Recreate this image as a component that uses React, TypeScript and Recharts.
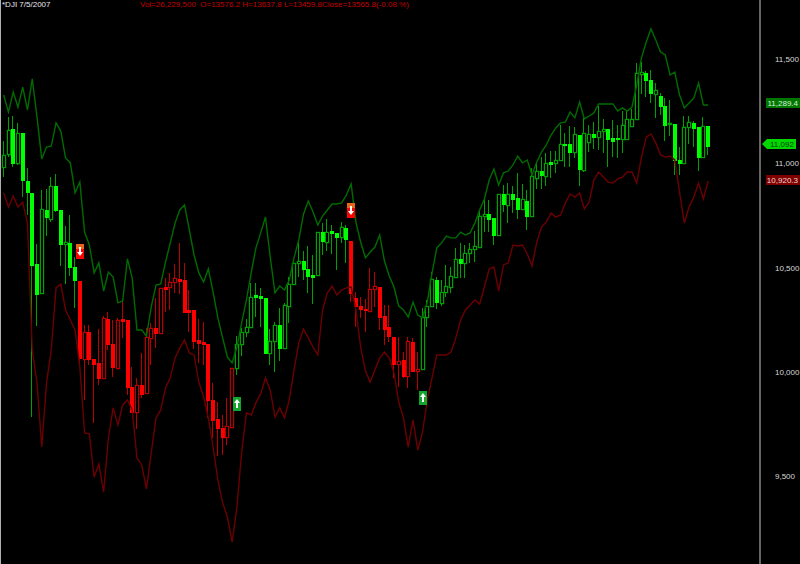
import { Bar, ComposedChart, Line, ReferenceDot, XAxis, YAxis } from "recharts";

const opens = [10983,11046,11166,11003,11147,10916,10859,10518,10379,10777,10734,10892,10777,10614,10619,10503,10436,10062,10191,10062,10043,9971,10254,10134,10019,10254,10249,9927,9807,9937,9899,10163,10211,10187,10407,10407,10431,10446,10441,10297,10297,10153,10143,10134,9865,9774,9731,9687,9736,10019,10134,10191,10215,10369,10364,10355,10091,10148,10225,10115,10316,10422,10523,10532,10494,10465,10465,10671,10623,10676,10667,10647,10691,10628,10355,10316,10302,10292,10398,10407,10268,10215,10167,10038,10057,9980,10143,10004,10014,10263,10316,10441,10331,10383,10407,10455,10542,10523,10571,10590,10599,10748,10758,10738,10657,10854,10801,10854,10835,10782,10820,10748,10931,10964,10940,11007,11003,11017,11094,11094,11055,11137,10969,11103,11142,11127,11156,11166,11123,11123,11118,11118,11180,11214,11430,11435,11401,11334,11324,11276,11190,11190,11017,11003,11175,11195,11175,11031,11180];
const highs = [11108,11223,11228,11195,11147,10979,10859,10614,10873,10878,10935,10950,10777,10700,10753,10551,10436,10225,10225,10062,10206,10268,10287,10249,10259,10345,10249,10023,9971,10091,10211,10235,10355,10403,10451,10475,10518,10619,10523,10393,10297,10254,10239,10134,9947,9855,9793,9875,10019,10172,10211,10254,10427,10427,10403,10355,10206,10239,10307,10331,10455,10542,10623,10580,10604,10561,10671,10714,10734,10705,10667,10719,10705,10628,10383,10359,10350,10499,10479,10407,10321,10321,10167,10167,10095,10167,10163,10095,10307,10345,10479,10455,10441,10513,10503,10595,10619,10609,10619,10676,10777,10839,10825,10738,10854,10897,10906,10892,10955,10902,10873,10979,11007,11031,11051,11060,11060,11185,11147,11180,11175,11137,11219,11185,11199,11276,11214,11166,11209,11185,11252,11257,11262,11483,11487,11444,11449,11387,11339,11315,11305,11190,11079,11228,11228,11204,11175,11223,11180];
const lows = [10935,11031,10983,10993,10839,10753,9783,10220,10374,10652,10719,10767,10508,10422,10460,10307,10033,9865,10033,9755,9937,9966,10105,9975,10019,10163,9889,9803,9726,9875,9899,10033,10115,10187,10287,10297,10379,10374,10287,10191,10110,10043,10033,9779,9683,9596,9601,9649,9731,9985,10076,10167,10215,10263,10215,10091,10033,9999,10052,10115,10235,10422,10455,10441,10379,10326,10465,10561,10580,10566,10489,10619,10523,10335,10215,10259,10191,10292,10311,10201,10129,10143,9971,9927,9971,9923,10004,9913,10014,10215,10316,10302,10316,10359,10379,10455,10451,10451,10523,10527,10599,10671,10671,10609,10657,10767,10714,10762,10734,10777,10681,10748,10878,10878,10892,10931,10955,11017,10983,10983,11027,10892,10959,11055,11070,11065,11051,10983,11031,11027,11051,11118,11180,11214,11334,11319,11291,11219,11233,11108,11132,10945,10945,11003,11094,11079,10964,11031,11041];
const closes = [11041,11161,11003,11147,10921,10863,10513,10374,10782,10743,10892,10777,10614,10623,10503,10441,10067,10191,10062,10038,9971,10259,10134,10023,10249,10244,9927,9807,9937,9894,10167,10211,10187,10403,10398,10431,10451,10436,10287,10287,10148,10139,10134,9865,9769,9731,9687,9740,10019,10134,10191,10215,10359,10359,10355,10091,10148,10225,10115,10321,10422,10523,10532,10494,10460,10455,10671,10628,10671,10667,10647,10695,10638,10379,10316,10302,10297,10398,10412,10263,10206,10172,10038,10052,9980,10148,10004,10014,10263,10316,10446,10335,10383,10412,10460,10542,10523,10571,10590,10604,10748,10758,10734,10657,10854,10806,10854,10830,10782,10830,10748,10940,10964,10945,11003,10998,11017,11094,11089,11055,11142,10974,11147,11142,11127,11156,11166,11118,11108,11118,11185,11214,11214,11435,11439,11401,11339,11353,11276,11185,11195,11017,11003,11175,11199,11171,11031,11180,11084];
const upperBand = [11329,11247,11343,11271,11367,11257,11406,11223,11022,11079,11084,11195,11156,11027,11003,10859,10911,10671,10609,10475,10523,10388,10479,10455,10331,10340,10542,10451,10201,10201,10172,10311,10417,10422,10527,10619,10714,10777,10801,10681,10561,10475,10431,10494,10383,10259,10163,10071,10043,10119,10235,10345,10475,10595,10667,10743,10551,10379,10412,10393,10441,10547,10633,10758,10820,10767,10705,10748,10777,10806,10806,10811,10849,10902,10719,10623,10547,10575,10599,10657,10532,10460,10407,10316,10297,10263,10335,10273,10259,10335,10475,10595,10619,10652,10643,10643,10671,10657,10667,10714,10777,10830,10921,10974,10897,10955,10964,10993,11036,11003,11017,10945,11007,11055,11089,11137,11171,11195,11199,11247,11219,11295,11214,11228,11243,11286,11286,11286,11286,11252,11267,11252,11271,11377,11507,11583,11646,11593,11535,11521,11425,11439,11329,11267,11291,11315,11387,11281,11281];
const lowerBand = [10859,10791,10844,10791,10815,10714,10105,9947,9639,9947,10105,10403,10422,10297,10249,10201,10023,9707,9702,9495,9558,9423,9683,9827,9745,9841,9865,9817,9587,9553,9438,9611,9779,9817,9923,9971,10067,10115,10153,10091,10081,9951,9879,9779,9639,9481,9371,9303,9183,9351,9615,9803,9793,9851,9894,9971,9913,9783,9827,9779,9865,10009,10139,10206,10163,10119,10081,10297,10379,10412,10369,10393,10403,10407,10297,10119,10004,9951,10009,10067,10095,10067,9995,9855,9779,9639,9769,9625,9711,9865,9971,10081,10081,10081,10095,10163,10249,10297,10321,10345,10326,10407,10494,10503,10388,10513,10523,10609,10604,10609,10566,10508,10623,10695,10719,10762,10743,10753,10811,10854,10839,10859,10782,10815,10921,10959,10935,10911,10906,10926,10935,10959,10959,10906,11031,11127,11142,11099,11041,11031,11036,11017,10863,10714,10791,10839,10906,10830,10916];

// bar index -> price the arrow box sits at
const sellSignals = [[16, 10575], [73, 10772]];
const buySignals = [[49, 9846], [88, 9875]];
const yTicks = [9500, 10000, 10500, 11000, 11500];

const lastUpper = 11289.4;
const lastClose = 11092;
const lastLower = 10920.3;

const FONT = '"Liberation Sans", Arial, sans-serif';

let trendUp = true;
const data = opens.map((open, i) => {
  const sell = sellSignals.find((s) => s[0] === i);
  const buy = buySignals.find((s) => s[0] === i);
  if (sell) trendUp = false;
  if (buy) trendUp = true;
  return {
    day: i,
    open,
    high: highs[i],
    low: lows[i],
    close: closes[i],
    upper: upperBand[i],
    lower: lowerBand[i],
    sell: sell ? sell[1] : null,
    buy: buy ? buy[1] : null,
    trendUp,
  };
});
const lastDay = data.length - 1;

function Candle(props: any) {
  const { x, y, width, height, payload } = props;
  if (!payload || !height) return null;
  const top = Math.min(y, y + height);
  const perUnit = Math.abs(height) / (payload.high - payload.low);
  const cx = Math.round(x + width / 2);
  const dark = payload.trendUp ? "#00a000" : "#b80000";
  const bright = payload.trendUp ? "#00ff00" : "#ff0000";
  const bodyHigh = Math.max(payload.open, payload.close);
  const bodyLow = Math.min(payload.open, payload.close);
  const bodyTop = Math.round(top + (payload.high - bodyHigh) * perUnit);
  const bodyH = Math.max(1, Math.round((bodyHigh - bodyLow) * perUnit));
  const filled = payload.close < payload.open;
  return (
    <g>
      <rect x={cx - 1} y={top} width={1} height={Math.abs(height)} fill={dark} shapeRendering="crispEdges" />
      {filled ? (
        <rect x={cx - 2} y={bodyTop} width={4} height={bodyH + 1} fill={bright} shapeRendering="crispEdges" />
      ) : (
        <rect x={cx - 1.6} y={bodyTop + 0.4} width={3.2} height={bodyH + 0.2} fill="#000" stroke={dark} strokeWidth={1.2} />
      )}
    </g>
  );
}

function SellDot(props: any) {
  const { cx, cy, index } = props;
  if (cy == null || cx == null) return <g key={index} />;
  const x = Math.round(cx) - 4;
  const y = Math.round(cy) - 8;
  return (
    <g key={index}>
      <rect x={x} y={y} width={8} height={15} fill="#ff0000" shapeRendering="crispEdges" />
      <rect x={x} y={y} width={8} height={5} fill="#e8641a" shapeRendering="crispEdges" />
      <path d={`M${x + 3} ${y + 3}h2v5h2l-3 4l-3 -4h2z`} fill="#fff" />
    </g>
  );
}

function BuyDot(props: any) {
  const { cx, cy, index } = props;
  if (cy == null || cx == null) return <g key={index} />;
  const x = Math.round(cx) - 4;
  const y = Math.round(cy) - 7;
  return (
    <g key={index}>
      <rect x={x} y={y} width={8} height={14} fill="#12a62a" shapeRendering="crispEdges" />
      <path d={`M${x + 4} ${y + 2}l3 4h-2v5h-2v-5h-2z`} fill="#fff" />
    </g>
  );
}

function BandFlag({ cy, fill, color, label }: any) {
  const y = Math.round(cy);
  return (
    <g>
      <rect x={766} y={y - 5} width={34} height={10} fill={fill} />
      <text x={798} y={y + 3} textAnchor="end" fontSize={8} fontFamily={FONT} fill={color}>{label}</text>
    </g>
  );
}

function CloseFlag({ cy, label }: any) {
  const y = Math.round(cy);
  return (
    <g>
      <path d={`M762 ${y}l5 -5h29v10h-29z`} fill="#00d800" />
      <text x={770} y={y + 3} fontSize={8} fontFamily={FONT} fill="#0a3a0a">{label}</text>
    </g>
  );
}

export default function App() {
  return (
    <div style={{ position: "absolute", left: 0, top: 0, width: 800, height: 564, background: "#000", overflow: "hidden" }}>
      <ComposedChart width={800} height={564} data={data} margin={{ top: 0, right: 0, bottom: 0, left: 0 }}>
        <XAxis dataKey="day" hide padding={{ left: 1.3, right: 49.5 }} />
        <YAxis
          orientation="right"
          width={40}
          domain={[9077.6, 11785]}
          allowDataOverflow
          ticks={yTicks}
          tickSize={0}
          tickMargin={15}
          tickFormatter={(v: number) => v.toLocaleString("en-US")}
          tick={{ fill: "#d8d8d8", fontSize: 8, fontFamily: FONT }}
          axisLine={{ stroke: "#c8c8c8" }}
          tickLine={false}
        />
        <Line dataKey="upper" stroke="#006c00" strokeWidth={1.4} dot={false} isAnimationActive={false} />
        <Line dataKey="lower" stroke="#6c0000" strokeWidth={1.4} dot={false} isAnimationActive={false} />
        <Bar dataKey={(d: any) => [d.low, d.high]} shape={Candle} isAnimationActive={false} />
        <Line dataKey="sell" stroke="none" dot={SellDot} activeDot={false} isAnimationActive={false} />
        <Line dataKey="buy" stroke="none" dot={BuyDot} activeDot={false} isAnimationActive={false} />
        <ReferenceDot x={lastDay} y={lastUpper} shape={(p: any) => <BandFlag cy={p.cy} fill="#007800" color="#d8f0d8" label="11,289.4" />} />
        <ReferenceDot x={lastDay} y={lastClose} shape={(p: any) => <CloseFlag cy={p.cy} label="11,092" />} />
        <ReferenceDot x={lastDay} y={lastLower} shape={(p: any) => <BandFlag cy={p.cy} fill="#800000" color="#f0d8d8" label="10,920.3" />} />
      </ComposedChart>
      <div style={{ position: "absolute", left: 0, top: 0, width: 1, height: 564, background: "#b0b0b0" }} />
      <div style={{ position: "absolute", left: 2, top: 0, font: `8px ${FONT}`, lineHeight: "10px", color: "#e8e8e8", whiteSpace: "pre" }}>*DJI 7/5/2007</div>
      <div style={{ position: "absolute", left: 140, top: 0, font: `8px ${FONT}`, lineHeight: "10px", color: "#c00000", whiteSpace: "pre" }}>
        Vol=26,229,500  O=13576.2 H=13637.8 L=13459.8Close=13565.8(-0.08 %)
      </div>
    </div>
  );
}
